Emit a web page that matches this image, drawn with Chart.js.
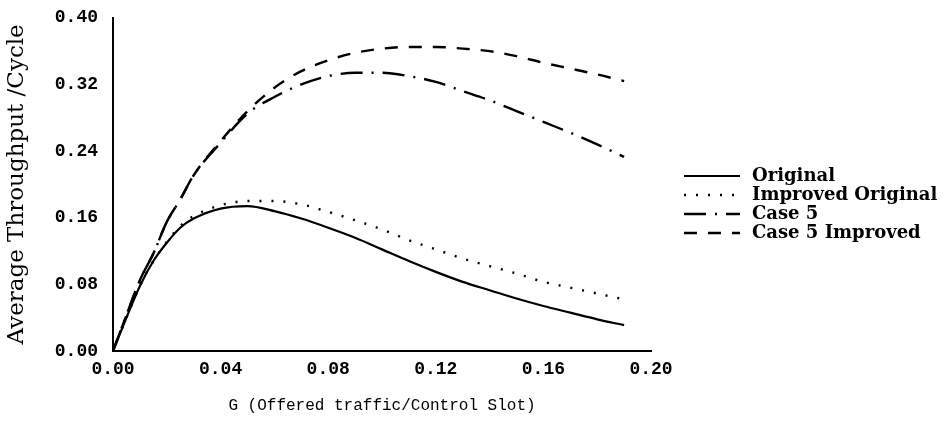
<!DOCTYPE html>
<html>
<head>
<meta charset="utf-8">
<script src="https://cdn.jsdelivr.net/npm/chart.js@4/dist/chart.umd.min.js"></script>
<style>
  body { margin: 0; background: #fff; }
  #wrap { width: 948px; height: 438px; }
</style>
</head>
<body>
<div id="wrap"><canvas id="myChart" width="948" height="438"></canvas></div>
<script>
const G = [0, 0.005, 0.01, 0.015, 0.02, 0.025, 0.03, 0.04, 0.05, 0.06, 0.07, 0.08, 0.09, 0.10, 0.11, 0.12, 0.13, 0.14, 0.15, 0.16, 0.17, 0.18, 0.19];
const original = [0, 0.040, 0.078, 0.108, 0.130, 0.148, 0.159, 0.171, 0.174, 0.168, 0.159, 0.148, 0.136, 0.122, 0.108, 0.095, 0.083, 0.073, 0.063, 0.054, 0.046, 0.038, 0.031];
const improvedOriginal = [0, 0.040, 0.078, 0.108, 0.131, 0.150, 0.162, 0.175, 0.180, 0.180, 0.176, 0.167, 0.157, 0.146, 0.133, 0.122, 0.111, 0.102, 0.093, 0.083, 0.076, 0.069, 0.062];
const case5 = [0, 0.043, 0.085, 0.117, 0.155, 0.182, 0.211, 0.250, 0.285, 0.305, 0.320, 0.330, 0.334, 0.334, 0.330, 0.323, 0.312, 0.301, 0.288, 0.275, 0.262, 0.248, 0.233];
const case5Improved = [0, 0.043, 0.085, 0.117, 0.155, 0.182, 0.211, 0.252, 0.288, 0.316, 0.336, 0.349, 0.358, 0.363, 0.365, 0.365, 0.363, 0.360, 0.354, 0.346, 0.339, 0.332, 0.324];
const seriesNames = ["Original", "Improved Original", "Case 5", "Case 5 Improved"];
const xTicks = [0, 0.04, 0.08, 0.12, 0.16, 0.20];
const yTicks = [0, 0.08, 0.16, 0.24, 0.32, 0.40];

function pts(vals) {
    return G.map((g, i) => ({ x: g, y: vals[i] }));
}

const tickFont = { family: "'Liberation Mono', monospace", size: 18, weight: "bold" };

// legend drawn by hand so the line styles show like the original
const sideLegend = {
    id: "sideLegend",
    afterDraw(chart) {
        const ctx = chart.ctx;
        ctx.save();
        chart.data.datasets.forEach((ds, i) => {
            const y = 176 + i * 19;
            ctx.strokeStyle = "#000";
            ctx.lineWidth = ds.borderWidth;
            ctx.setLineDash(ds.borderDash || []);
            ctx.beginPath();
            ctx.moveTo(684, y);
            ctx.lineTo(740, y);
            ctx.stroke();
            ctx.setLineDash([]);
            ctx.fillStyle = "#000";
            ctx.font = "bold 18px 'DejaVu Serif', serif";
            ctx.textBaseline = "middle";
            ctx.fillText(ds.label, 752, y);
        });
        ctx.restore();
    },
};

const ctx = document.getElementById("myChart").getContext("2d");
const myChart = new Chart(ctx, {
    type: "line",
    data: {
        datasets: [
            { label: seriesNames[0], data: pts(original), borderWidth: 2.2, borderDash: [] },
            { label: seriesNames[1], data: pts(improvedOriginal), borderWidth: 2.4, borderDash: [2, 10] },
            { label: seriesNames[2], data: pts(case5), borderWidth: 2.4, borderDash: [22, 9, 2, 9] },
            { label: seriesNames[3], data: pts(case5Improved), borderWidth: 2.4, borderDash: [13, 11] },
        ].map(d => Object.assign(d, {
            borderColor: "#000",
            backgroundColor: "#000",
            pointRadius: 0,
            fill: false,
            cubicInterpolationMode: "monotone",
        })),
    },
    options: {
        responsive: false,
        animation: false,
        layout: { padding: { top: 17, right: 297, left: 0, bottom: 0 } },
        plugins: {
            legend: { display: false },
            tooltip: { enabled: false },
        },
        scales: {
            x: {
                type: "linear",
                min: 0,
                max: 0.2,
                afterFit: s => { s.height = 87; },
                afterBuildTicks: s => { s.ticks = xTicks.map(v => ({ value: v })); },
                grid: { display: false },
                border: { display: true, color: "#000", width: 2 },
                ticks: { color: "#000", font: tickFont, padding: 0, maxRotation: 0, callback: v => v.toFixed(2) },
                title: {
                    display: true,
                    text: "G (Offered traffic/Control Slot)",
                    color: "#000",
                    font: { family: "'Liberation Mono', monospace", size: 16 },
                    padding: { top: 0, bottom: 23 },
                },
            },
            y: {
                min: 0,
                max: 0.4,
                afterFit: s => { s.width = 113; },
                afterBuildTicks: s => { s.ticks = yTicks.map(v => ({ value: v })); },
                grid: { display: false },
                border: { display: true, color: "#000", width: 2 },
                ticks: { color: "#000", font: tickFont, padding: 7, callback: v => v.toFixed(2) },
                title: {
                    display: true,
                    text: "Average Throughput /Cycle",
                    color: "#000",
                    font: { family: "'DejaVu Serif', serif", size: 23 },
                    padding: { top: 3, bottom: 0 },
                },
            },
        },
    },
    plugins: [sideLegend],
});
</script>
</body>
</html>
